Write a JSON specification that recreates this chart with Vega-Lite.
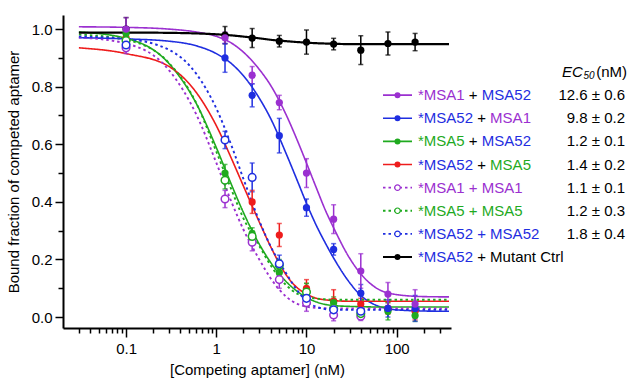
{
  "$schema": "https://vega.github.io/schema/vega-lite/v6.json",
  "width": 388,
  "height": 313,
  "autosize": "none",
  "padding": {"left": 63, "top": 15, "right": 177, "bottom": 50},
  "background": "white",
  "config": {
    "view": {"stroke": null},
    "font": "Liberation Sans",
    "axis": {
      "grid": false,
      "domainColor": "black",
      "domainWidth": 2,
      "tickColor": "black",
      "tickWidth": 1.5,
      "labelColor": "black",
      "titleColor": "black",
      "labelFontSize": 15,
      "titleFontSize": 15,
      "titleFontWeight": "normal",
      "labelFont": "Liberation Sans",
      "titleFont": "Liberation Sans"
    }
  },
  "datasets": {
    "curves": [
      {"s":"MSA1+MSA52","k":"het","x":0.03,"y":1.008},{"s":"MSA1+MSA52","k":"het","x":0.1,"y":1.006},{"s":"MSA1+MSA52","k":"het","x":0.3,"y":1.0},{"s":"MSA1+MSA52","k":"het","x":0.6,"y":0.99},{"s":"MSA1+MSA52","k":"het","x":1,"y":0.975},{"s":"MSA1+MSA52","k":"het","x":1.5,"y":0.95},{"s":"MSA1+MSA52","k":"het","x":2,"y":0.92},{"s":"MSA1+MSA52","k":"het","x":3,"y":0.86},{"s":"MSA1+MSA52","k":"het","x":4,"y":0.805},{"s":"MSA1+MSA52","k":"het","x":6,"y":0.70},{"s":"MSA1+MSA52","k":"het","x":8,"y":0.61},{"s":"MSA1+MSA52","k":"het","x":10,"y":0.535},{"s":"MSA1+MSA52","k":"het","x":13,"y":0.445},{"s":"MSA1+MSA52","k":"het","x":16,"y":0.375},{"s":"MSA1+MSA52","k":"het","x":20,"y":0.31},{"s":"MSA1+MSA52","k":"het","x":30,"y":0.205},{"s":"MSA1+MSA52","k":"het","x":40,"y":0.15},{"s":"MSA1+MSA52","k":"het","x":60,"y":0.10},{"s":"MSA1+MSA52","k":"het","x":100,"y":0.078},{"s":"MSA1+MSA52","k":"het","x":200,"y":0.071},{"s":"MSA1+MSA52","k":"het","x":380,"y":0.07},

      {"s":"MSA52+MSA1","k":"het","x":0.03,"y":0.97},{"s":"MSA52+MSA1","k":"het","x":0.1,"y":0.966},{"s":"MSA52+MSA1","k":"het","x":0.3,"y":0.958},{"s":"MSA52+MSA1","k":"het","x":0.6,"y":0.942},{"s":"MSA52+MSA1","k":"het","x":1,"y":0.915},{"s":"MSA52+MSA1","k":"het","x":1.5,"y":0.878},{"s":"MSA52+MSA1","k":"het","x":2,"y":0.838},{"s":"MSA52+MSA1","k":"het","x":3,"y":0.76},{"s":"MSA52+MSA1","k":"het","x":4,"y":0.69},{"s":"MSA52+MSA1","k":"het","x":6,"y":0.565},{"s":"MSA52+MSA1","k":"het","x":8,"y":0.47},{"s":"MSA52+MSA1","k":"het","x":10,"y":0.395},{"s":"MSA52+MSA1","k":"het","x":13,"y":0.315},{"s":"MSA52+MSA1","k":"het","x":16,"y":0.26},{"s":"MSA52+MSA1","k":"het","x":20,"y":0.205},{"s":"MSA52+MSA1","k":"het","x":30,"y":0.12},{"s":"MSA52+MSA1","k":"het","x":40,"y":0.075},{"s":"MSA52+MSA1","k":"het","x":60,"y":0.04},{"s":"MSA52+MSA1","k":"het","x":100,"y":0.025},{"s":"MSA52+MSA1","k":"het","x":200,"y":0.021},{"s":"MSA52+MSA1","k":"het","x":380,"y":0.02},

      {"s":"MSA5+MSA52","k":"het","x":0.03,"y":0.99},{"s":"MSA5+MSA52","k":"het","x":0.1,"y":0.968},{"s":"MSA5+MSA52","k":"het","x":0.3,"y":0.88},{"s":"MSA5+MSA52","k":"het","x":0.6,"y":0.742},{"s":"MSA5+MSA52","k":"het","x":1,"y":0.589},{"s":"MSA5+MSA52","k":"het","x":1.5,"y":0.454},{"s":"MSA5+MSA52","k":"het","x":2,"y":0.363},{"s":"MSA5+MSA52","k":"het","x":3,"y":0.253},{"s":"MSA5+MSA52","k":"het","x":4,"y":0.19},{"s":"MSA5+MSA52","k":"het","x":6,"y":0.122},{"s":"MSA5+MSA52","k":"het","x":8,"y":0.088},{"s":"MSA5+MSA52","k":"het","x":10,"y":0.068},{"s":"MSA5+MSA52","k":"het","x":13,"y":0.052},{"s":"MSA5+MSA52","k":"het","x":16,"y":0.044},{"s":"MSA5+MSA52","k":"het","x":20,"y":0.04},{"s":"MSA5+MSA52","k":"het","x":30,"y":0.037},{"s":"MSA5+MSA52","k":"het","x":40,"y":0.036},{"s":"MSA5+MSA52","k":"het","x":60,"y":0.035},{"s":"MSA5+MSA52","k":"het","x":100,"y":0.035},{"s":"MSA5+MSA52","k":"het","x":200,"y":0.035},{"s":"MSA5+MSA52","k":"het","x":380,"y":0.035},

      {"s":"MSA52+MSA5","k":"het","x":0.03,"y":0.935},{"s":"MSA52+MSA5","k":"het","x":0.1,"y":0.915},{"s":"MSA52+MSA5","k":"het","x":0.3,"y":0.87},{"s":"MSA52+MSA5","k":"het","x":0.6,"y":0.78},{"s":"MSA52+MSA5","k":"het","x":1,"y":0.665},{"s":"MSA52+MSA5","k":"het","x":1.5,"y":0.545},{"s":"MSA52+MSA5","k":"het","x":2,"y":0.455},{"s":"MSA52+MSA5","k":"het","x":3,"y":0.33},{"s":"MSA52+MSA5","k":"het","x":4,"y":0.245},{"s":"MSA52+MSA5","k":"het","x":6,"y":0.145},{"s":"MSA52+MSA5","k":"het","x":8,"y":0.10},{"s":"MSA52+MSA5","k":"het","x":10,"y":0.08},{"s":"MSA52+MSA5","k":"het","x":13,"y":0.065},{"s":"MSA52+MSA5","k":"het","x":16,"y":0.06},{"s":"MSA52+MSA5","k":"het","x":20,"y":0.057},{"s":"MSA52+MSA5","k":"het","x":30,"y":0.055},{"s":"MSA52+MSA5","k":"het","x":40,"y":0.055},{"s":"MSA52+MSA5","k":"het","x":60,"y":0.055},{"s":"MSA52+MSA5","k":"het","x":100,"y":0.055},{"s":"MSA52+MSA5","k":"het","x":200,"y":0.055},{"s":"MSA52+MSA5","k":"het","x":380,"y":0.055},

      {"s":"MSA1+MSA1","k":"homo","x":0.03,"y":0.971},{"s":"MSA1+MSA1","k":"homo","x":0.1,"y":0.95},{"s":"MSA1+MSA1","k":"homo","x":0.3,"y":0.857},{"s":"MSA1+MSA1","k":"homo","x":0.6,"y":0.704},{"s":"MSA1+MSA1","k":"homo","x":1,"y":0.536},{"s":"MSA1+MSA1","k":"homo","x":1.5,"y":0.394},{"s":"MSA1+MSA1","k":"homo","x":2,"y":0.304},{"s":"MSA1+MSA1","k":"homo","x":3,"y":0.20},{"s":"MSA1+MSA1","k":"homo","x":4,"y":0.135},{"s":"MSA1+MSA1","k":"homo","x":6,"y":0.07},{"s":"MSA1+MSA1","k":"homo","x":8,"y":0.045},{"s":"MSA1+MSA1","k":"homo","x":10,"y":0.036},{"s":"MSA1+MSA1","k":"homo","x":13,"y":0.032},{"s":"MSA1+MSA1","k":"homo","x":16,"y":0.031},{"s":"MSA1+MSA1","k":"homo","x":20,"y":0.03},{"s":"MSA1+MSA1","k":"homo","x":40,"y":0.03},{"s":"MSA1+MSA1","k":"homo","x":100,"y":0.03},{"s":"MSA1+MSA1","k":"homo","x":380,"y":0.03},

      {"s":"MSA5+MSA5","k":"homo","x":0.03,"y":0.981},{"s":"MSA5+MSA5","k":"homo","x":0.1,"y":0.963},{"s":"MSA5+MSA5","k":"homo","x":0.3,"y":0.882},{"s":"MSA5+MSA5","k":"homo","x":0.6,"y":0.743},{"s":"MSA5+MSA5","k":"homo","x":1,"y":0.575},{"s":"MSA5+MSA5","k":"homo","x":1.5,"y":0.436},{"s":"MSA5+MSA5","k":"homo","x":2,"y":0.343},{"s":"MSA5+MSA5","k":"homo","x":3,"y":0.247},{"s":"MSA5+MSA5","k":"homo","x":4,"y":0.18},{"s":"MSA5+MSA5","k":"homo","x":6,"y":0.11},{"s":"MSA5+MSA5","k":"homo","x":8,"y":0.08},{"s":"MSA5+MSA5","k":"homo","x":10,"y":0.07},{"s":"MSA5+MSA5","k":"homo","x":13,"y":0.064},{"s":"MSA5+MSA5","k":"homo","x":16,"y":0.062},{"s":"MSA5+MSA5","k":"homo","x":20,"y":0.06},{"s":"MSA5+MSA5","k":"homo","x":40,"y":0.06},{"s":"MSA5+MSA5","k":"homo","x":100,"y":0.06},{"s":"MSA5+MSA5","k":"homo","x":380,"y":0.06},

      {"s":"MSA52+MSA52","k":"homo","x":0.03,"y":0.974},{"s":"MSA52+MSA52","k":"homo","x":0.1,"y":0.966},{"s":"MSA52+MSA52","k":"homo","x":0.3,"y":0.928},{"s":"MSA52+MSA52","k":"homo","x":0.6,"y":0.845},{"s":"MSA52+MSA52","k":"homo","x":1,"y":0.725},{"s":"MSA52+MSA52","k":"homo","x":1.5,"y":0.589},{"s":"MSA52+MSA52","k":"homo","x":2,"y":0.48},{"s":"MSA52+MSA52","k":"homo","x":3,"y":0.334},{"s":"MSA52+MSA52","k":"homo","x":4,"y":0.246},{"s":"MSA52+MSA52","k":"homo","x":6,"y":0.15},{"s":"MSA52+MSA52","k":"homo","x":8,"y":0.09},{"s":"MSA52+MSA52","k":"homo","x":10,"y":0.055},{"s":"MSA52+MSA52","k":"homo","x":13,"y":0.035},{"s":"MSA52+MSA52","k":"homo","x":16,"y":0.028},{"s":"MSA52+MSA52","k":"homo","x":20,"y":0.025},{"s":"MSA52+MSA52","k":"homo","x":40,"y":0.025},{"s":"MSA52+MSA52","k":"homo","x":100,"y":0.025},{"s":"MSA52+MSA52","k":"homo","x":380,"y":0.025},

      {"s":"MSA52+Ctrl","k":"ctrl","x":0.03,"y":0.988},{"s":"MSA52+Ctrl","k":"ctrl","x":0.1,"y":0.988},{"s":"MSA52+Ctrl","k":"ctrl","x":0.3,"y":0.987},{"s":"MSA52+Ctrl","k":"ctrl","x":0.6,"y":0.985},{"s":"MSA52+Ctrl","k":"ctrl","x":1,"y":0.982},{"s":"MSA52+Ctrl","k":"ctrl","x":1.5,"y":0.978},{"s":"MSA52+Ctrl","k":"ctrl","x":2,"y":0.974},{"s":"MSA52+Ctrl","k":"ctrl","x":3,"y":0.968},{"s":"MSA52+Ctrl","k":"ctrl","x":4,"y":0.963},{"s":"MSA52+Ctrl","k":"ctrl","x":6,"y":0.958},{"s":"MSA52+Ctrl","k":"ctrl","x":8,"y":0.955},{"s":"MSA52+Ctrl","k":"ctrl","x":10,"y":0.953},{"s":"MSA52+Ctrl","k":"ctrl","x":13,"y":0.951},{"s":"MSA52+Ctrl","k":"ctrl","x":16,"y":0.95},{"s":"MSA52+Ctrl","k":"ctrl","x":20,"y":0.949},{"s":"MSA52+Ctrl","k":"ctrl","x":30,"y":0.948},{"s":"MSA52+Ctrl","k":"ctrl","x":100,"y":0.948},{"s":"MSA52+Ctrl","k":"ctrl","x":380,"y":0.948}
    ],
    "points": [
      {"s":"MSA52+Ctrl","k":"ctrl","x":0.1,"y":1.0,"e":0.04},{"s":"MSA52+Ctrl","k":"ctrl","x":1.25,"y":0.979,"e":0.03},{"s":"MSA52+Ctrl","k":"ctrl","x":2.5,"y":0.969,"e":0.033},{"s":"MSA52+Ctrl","k":"ctrl","x":5,"y":0.958,"e":0.02},{"s":"MSA52+Ctrl","k":"ctrl","x":10,"y":0.955,"e":0.042},{"s":"MSA52+Ctrl","k":"ctrl","x":20,"y":0.948,"e":0.02},{"s":"MSA52+Ctrl","k":"ctrl","x":40,"y":0.927,"e":0.05},{"s":"MSA52+Ctrl","k":"ctrl","x":80,"y":0.95,"e":0.04},{"s":"MSA52+Ctrl","k":"ctrl","x":160,"y":0.955,"e":0.03},

      {"s":"MSA1+MSA1","k":"homo","x":0.1,"y":0.935,"e":0.02},{"s":"MSA1+MSA1","k":"homo","x":1.25,"y":0.41,"e":0.03},{"s":"MSA1+MSA1","k":"homo","x":2.5,"y":0.26,"e":0.03},{"s":"MSA1+MSA1","k":"homo","x":5,"y":0.13,"e":0.03},{"s":"MSA1+MSA1","k":"homo","x":10,"y":0.05,"e":0.03},{"s":"MSA1+MSA1","k":"homo","x":20,"y":0.007,"e":0.02},{"s":"MSA1+MSA1","k":"homo","x":40,"y":0.003,"e":0.015},

      {"s":"MSA5+MSA5","k":"homo","x":0.1,"y":0.96,"e":0.02},{"s":"MSA5+MSA5","k":"homo","x":1.25,"y":0.475,"e":0.03},{"s":"MSA5+MSA5","k":"homo","x":2.5,"y":0.28,"e":0.02},{"s":"MSA5+MSA5","k":"homo","x":5,"y":0.18,"e":0.02},{"s":"MSA5+MSA5","k":"homo","x":10,"y":0.087,"e":0.03},{"s":"MSA5+MSA5","k":"homo","x":20,"y":0.03,"e":0.02},{"s":"MSA5+MSA5","k":"homo","x":40,"y":0.012,"e":0.015},

      {"s":"MSA52+MSA52","k":"homo","x":0.1,"y":0.945,"e":0.02},{"s":"MSA52+MSA52","k":"homo","x":1.25,"y":0.615,"e":0.03},{"s":"MSA52+MSA52","k":"homo","x":2.5,"y":0.485,"e":0.05},{"s":"MSA52+MSA52","k":"homo","x":5,"y":0.185,"e":0.03},{"s":"MSA52+MSA52","k":"homo","x":10,"y":0.065,"e":0.02},{"s":"MSA52+MSA52","k":"homo","x":20,"y":0.025,"e":0.02},{"s":"MSA52+MSA52","k":"homo","x":40,"y":0.02,"e":0.02},

      {"s":"MSA52+MSA5","k":"het","x":0.1,"y":0.97,"e":0.02},{"s":"MSA52+MSA5","k":"het","x":2.5,"y":0.40,"e":0.04},{"s":"MSA52+MSA5","k":"het","x":5,"y":0.285,"e":0.04},{"s":"MSA52+MSA5","k":"het","x":10,"y":0.10,"e":0.03},{"s":"MSA52+MSA5","k":"het","x":20,"y":0.055,"e":0.04},{"s":"MSA52+MSA5","k":"het","x":40,"y":0.045,"e":0.02},{"s":"MSA52+MSA5","k":"het","x":80,"y":0.03,"e":0.02},{"s":"MSA52+MSA5","k":"het","x":160,"y":0.02,"e":0.03},

      {"s":"MSA5+MSA52","k":"het","x":0.1,"y":0.985,"e":0.02},{"s":"MSA5+MSA52","k":"het","x":1.25,"y":0.50,"e":0.03},{"s":"MSA5+MSA52","k":"het","x":2.5,"y":0.29,"e":0.02},{"s":"MSA5+MSA52","k":"het","x":5,"y":0.155,"e":0.02},{"s":"MSA5+MSA52","k":"het","x":10,"y":0.077,"e":0.04},{"s":"MSA5+MSA52","k":"het","x":20,"y":0.05,"e":0.02},{"s":"MSA5+MSA52","k":"het","x":40,"y":0.01,"e":0.01},{"s":"MSA5+MSA52","k":"het","x":80,"y":0.02,"e":0.03},{"s":"MSA5+MSA52","k":"het","x":160,"y":0.005,"e":0.02},

      {"s":"MSA52+MSA1","k":"het","x":0.1,"y":0.955,"e":0.02},{"s":"MSA52+MSA1","k":"het","x":1.25,"y":0.90,"e":0.05},{"s":"MSA52+MSA1","k":"het","x":2.5,"y":0.77,"e":0.04},{"s":"MSA52+MSA1","k":"het","x":5,"y":0.63,"e":0.06},{"s":"MSA52+MSA1","k":"het","x":10,"y":0.38,"e":0.03},{"s":"MSA52+MSA1","k":"het","x":20,"y":0.235,"e":0.02},{"s":"MSA52+MSA1","k":"het","x":40,"y":0.083,"e":0.03},{"s":"MSA52+MSA1","k":"het","x":80,"y":0.03,"e":0.03},{"s":"MSA52+MSA1","k":"het","x":160,"y":0.03,"e":0.045},

      {"s":"MSA1+MSA52","k":"het","x":0.1,"y":1.0,"e":0.04},{"s":"MSA1+MSA52","k":"het","x":1.25,"y":0.97,"e":0.02},{"s":"MSA1+MSA52","k":"het","x":2.5,"y":0.84,"e":0.03},{"s":"MSA1+MSA52","k":"het","x":5,"y":0.745,"e":0.025},{"s":"MSA1+MSA52","k":"het","x":10,"y":0.50,"e":0.05},{"s":"MSA1+MSA52","k":"het","x":20,"y":0.34,"e":0.05},{"s":"MSA1+MSA52","k":"het","x":40,"y":0.16,"e":0.06},{"s":"MSA1+MSA52","k":"het","x":80,"y":0.08,"e":0.04},{"s":"MSA1+MSA52","k":"het","x":160,"y":0.045,"e":0.05}
    ],
    "legend": [
      {"row":1,"s":"MSA1+MSA52","k":"het","label":"*MSA1 + MSA52","pre":"*MSA1 +","first":"*MSA1","c1":"MSA1","c2":"other","c3":"MSA52","ec":"12.6 ± 0.6"},
      {"row":2,"s":"MSA52+MSA1","k":"het","label":"*MSA52 + MSA1","pre":"*MSA52 +","first":"*MSA52","c1":"MSA52","c2":"other","c3":"MSA1","ec":"9.8 ± 0.2"},
      {"row":3,"s":"MSA5+MSA52","k":"het","label":"*MSA5 + MSA52","pre":"*MSA5 +","first":"*MSA5","c1":"MSA5","c2":"other","c3":"MSA52","ec":"1.2 ± 0.1"},
      {"row":4,"s":"MSA52+MSA5","k":"het","label":"*MSA52 + MSA5","pre":"*MSA52 +","first":"*MSA52","c1":"MSA52","c2":"other","c3":"MSA5","ec":"1.4 ± 0.2"},
      {"row":5,"s":"MSA1+MSA1","k":"homo","label":"*MSA1 + MSA1","pre":"*MSA1 +","first":"*MSA1","c1":"MSA1","c2":"MSA1","c3":"MSA1","ec":"1.1 ± 0.1"},
      {"row":6,"s":"MSA5+MSA5","k":"homo","label":"*MSA5 + MSA5","pre":"*MSA5 +","first":"*MSA5","c1":"MSA5","c2":"MSA5","c3":"MSA5","ec":"1.2 ± 0.3"},
      {"row":7,"s":"MSA52+MSA52","k":"homo","label":"*MSA52 + MSA52","pre":"*MSA52 +","first":"*MSA52","c1":"MSA52","c2":"MSA52","c3":"MSA52","ec":"1.8 ± 0.4"},
      {"row":8,"s":"MSA52+Ctrl","k":"ctrl","label":"*MSA52 + Mutant Ctrl","pre":"*MSA52 + Mutant Ctrl","first":"*MSA52","c1":"MSA52","c2":"other","c3":"other","ec":""}
    ]
  },
  "layer": [
    {
      "layer": [
        {
          "data": {"name": "curves"},
          "mark": {"type": "line", "interpolate": "monotone"},
          "encoding": {
            "x": {"field": "x", "type": "quantitative",
                  "scale": {"type": "log", "domain": [0.02, 400], "nice": false},
                  "axis": {"orient": "bottom", "values": [0.1, 1, 10, 100], "format": "~g", "tickSize": 9, "labelPadding": 4, "titlePadding": 6, "title": "[Competing aptamer] (nM)"}},
            "y": {"field": "y", "type": "quantitative",
                  "scale": {"domain": [-0.038, 1.049], "nice": false, "zero": false},
                  "axis": {"orient": "left", "values": [0, 0.2, 0.4, 0.6, 0.8, 1.0], "format": ".1f", "tickSize": 8, "labelPadding": 3, "titlePadding": 10, "title": "Bound fraction of competed aptamer"}},
            "detail": {"field": "s"},
            "color": {"field": "s", "type": "nominal", "legend": null,
                      "scale": {"domain": ["MSA1+MSA52","MSA52+MSA1","MSA5+MSA52","MSA52+MSA5","MSA1+MSA1","MSA5+MSA5","MSA52+MSA52","MSA52+Ctrl","MSA1","MSA52","MSA5","other"],
                                "range": ["#9b30d0","#1f2ee0","#1faa1f","#ee1c1c","#9b30d0","#1faa1f","#1f2ee0","#000000","#9b30d0","#1f2ee0","#1faa1f","#000000"]}},
            "strokeDash": {"field": "k", "type": "nominal", "legend": null,
                           "scale": {"domain": ["het","homo","ctrl"], "range": [[1,0],[2.5,3],[1,0]]}},
            "strokeWidth": {"field": "k", "type": "nominal", "legend": null,
                            "scale": {"domain": ["het","homo","ctrl"], "range": [1.6, 2.2, 1.6]}}
          }
        },
        {
          "data": {"name": "points"},
          "mark": {"type": "errorbar", "ticks": true, "size": 5, "thickness": 1.5},
          "encoding": {
            "x": {"field": "x", "type": "quantitative",
                  "axis": {"orient": "bottom", "values": [0.03,0.04,0.05,0.06,0.07,0.08,0.09,0.2,0.3,0.4,0.5,0.6,0.7,0.8,0.9,2,3,4,5,6,7,8,9,20,30,40,50,60,70,80,90,200,300], "labels": false, "domain": false, "tickSize": 5, "title": null}},
            "y": {"field": "y", "type": "quantitative",
                  "axis": {"orient": "left", "values": [0.1, 0.3, 0.5, 0.7, 0.9], "labels": false, "domain": false, "tickSize": 5, "title": null}},
            "yError": {"field": "e"},
            "color": {"field": "s", "type": "nominal", "legend": null}
          }
        },
        {
          "data": {"name": "points"},
          "transform": [{"filter": "datum.k !== 'homo'"}],
          "mark": {"type": "point", "shape": "circle", "filled": true, "size": 52, "opacity": 1},
          "encoding": {
            "x": {"field": "x", "type": "quantitative", "axis": null},
            "y": {"field": "y", "type": "quantitative", "axis": null},
            "color": {"field": "s", "type": "nominal", "legend": null}
          }
        },
        {
          "data": {"name": "points"},
          "transform": [{"filter": "datum.k === 'homo'"}],
          "mark": {"type": "point", "shape": "circle", "filled": false, "fill": "white", "fillOpacity": 1, "strokeWidth": 1.5, "size": 58, "opacity": 1},
          "encoding": {
            "x": {"field": "x", "type": "quantitative", "axis": null},
            "y": {"field": "y", "type": "quantitative", "axis": null},
            "color": {"field": "s", "type": "nominal", "legend": null}
          }
        }
      ],
      "resolve": {"axis": {"x": "independent", "y": "independent"}}
    },
    {
      "data": {"name": "legend"},
      "encoding": {
        "y": {"field": "row", "type": "quantitative", "axis": null,
              "scale": {"domain": [-2.465, 11.07], "reverse": true, "nice": false, "zero": false}}
      },
      "layer": [
        {
          "mark": {"type": "rule"},
          "encoding": {
            "x": {"datum": 320, "type": "quantitative", "axis": null, "scale": {"domain": [0, 388], "nice": false, "zero": false}},
            "x2": {"datum": 349},
            "color": {"field": "s", "type": "nominal", "legend": null},
            "strokeDash": {"field": "k", "type": "nominal", "legend": null},
            "strokeWidth": {"field": "k", "type": "nominal", "legend": null}
          }
        },
        {
          "transform": [{"filter": "datum.k !== 'homo'"}],
          "mark": {"type": "point", "shape": "circle", "filled": true, "size": 36, "opacity": 1},
          "encoding": {
            "x": {"datum": 334.5, "type": "quantitative"},
            "color": {"field": "s", "type": "nominal", "legend": null}
          }
        },
        {
          "transform": [{"filter": "datum.k === 'homo'"}],
          "mark": {"type": "point", "shape": "circle", "filled": false, "fill": "white", "fillOpacity": 1, "strokeWidth": 1.2, "size": 30, "opacity": 1},
          "encoding": {
            "x": {"datum": 334.5, "type": "quantitative"},
            "color": {"field": "s", "type": "nominal", "legend": null}
          }
        },
        {
          "mark": {"type": "text", "align": "left", "baseline": "middle", "fontSize": 15},
          "encoding": {
            "x": {"datum": 355, "type": "quantitative"},
            "text": {"field": "label"},
            "color": {"field": "c3", "type": "nominal", "legend": null}
          }
        },
        {
          "mark": {"type": "text", "align": "left", "baseline": "middle", "fontSize": 15, "fill": "white", "stroke": "white", "strokeWidth": 2.5},
          "encoding": {
            "x": {"datum": 355, "type": "quantitative"},
            "text": {"field": "pre"}
          }
        },
        {
          "mark": {"type": "text", "align": "left", "baseline": "middle", "fontSize": 15},
          "encoding": {
            "x": {"datum": 355, "type": "quantitative"},
            "text": {"field": "pre"},
            "color": {"field": "c2", "type": "nominal", "legend": null}
          }
        },
        {
          "mark": {"type": "text", "align": "left", "baseline": "middle", "fontSize": 15, "fill": "white", "stroke": "white", "strokeWidth": 2.5},
          "encoding": {
            "x": {"datum": 355, "type": "quantitative"},
            "text": {"field": "first"}
          }
        },
        {
          "mark": {"type": "text", "align": "left", "baseline": "middle", "fontSize": 15},
          "encoding": {
            "x": {"datum": 355, "type": "quantitative"},
            "text": {"field": "first"},
            "color": {"field": "c1", "type": "nominal", "legend": null}
          }
        },
        {
          "mark": {"type": "text", "align": "right", "baseline": "middle", "fontSize": 15, "color": "black"},
          "encoding": {
            "x": {"datum": 562, "type": "quantitative"},
            "text": {"field": "ec"}
          }
        },
        {
          "data": {"values": [{"row": 0}]},
          "mark": {"type": "text", "align": "left", "baseline": "middle", "fontSize": 15, "fontStyle": "italic", "color": "black", "text": "EC"},
          "encoding": {"x": {"datum": 499, "type": "quantitative"}}
        },
        {
          "data": {"values": [{"row": 0}]},
          "mark": {"type": "text", "align": "left", "baseline": "middle", "fontSize": 10, "fontStyle": "italic", "color": "black", "text": "50", "dy": 4},
          "encoding": {"x": {"datum": 520.5, "type": "quantitative"}}
        },
        {
          "data": {"values": [{"row": 0}]},
          "mark": {"type": "text", "align": "right", "baseline": "middle", "fontSize": 15, "color": "black", "text": "(nM)"},
          "encoding": {"x": {"datum": 564, "type": "quantitative"}}
        }
      ]
    }
  ],
  "resolve": {"scale": {"x": "independent", "y": "independent"}}
}
